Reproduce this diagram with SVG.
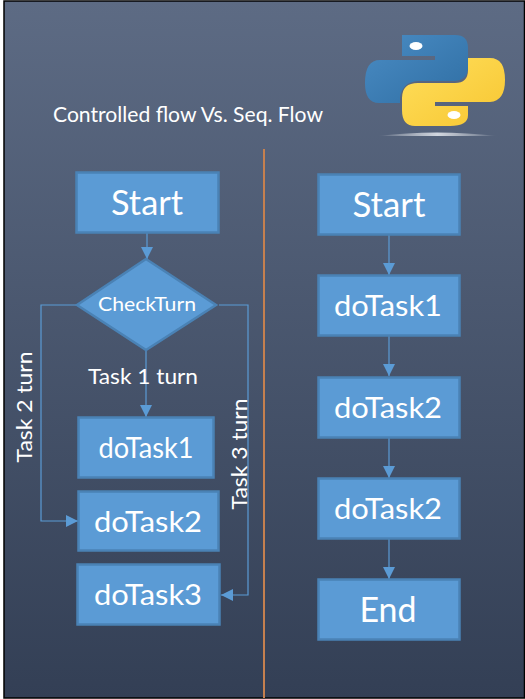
<svg xmlns="http://www.w3.org/2000/svg" width="525" height="699" viewBox="0 0 525 699">
<style>
.box{fill:#5b9bd5;stroke:#4a82b5;stroke-width:2.500}
.conn{fill:none;stroke:#5b9bd5;stroke-width:1.200}
text{font-family:Lato,"Open Sans","Noto Sans",sans-serif;fill:#fff;text-anchor:middle}
.lg{font-size:35px}.md{font-size:28px}.sm{font-size:20px}.lb{font-size:22px}
</style>
<defs>
<linearGradient id="bg" x1="0" y1="0" x2="0" y2="1"><stop offset="0" stop-color="#5d6b84"/><stop offset="1" stop-color="#333f55"/></linearGradient>
<linearGradient id="blue" x1="0" y1="0" x2="1" y2="1"><stop offset="0" stop-color="#4a8cc4"/><stop offset="1" stop-color="#2f6ea3"/></linearGradient>
<linearGradient id="yellow" x1="0" y1="0" x2="1" y2="1"><stop offset="0" stop-color="#ffdf5c"/><stop offset="1" stop-color="#f7c631"/></linearGradient>
<linearGradient id="glow" x1="0" y1="0" x2="1" y2="0"><stop offset="0" stop-color="#fff" stop-opacity="0"/><stop offset=".5" stop-color="#dfe3ea" stop-opacity=".9"/><stop offset="1" stop-color="#fff" stop-opacity="0"/></linearGradient>
<marker id="arr" markerWidth="13" markerHeight="13" refX="12" refY="6" orient="auto" markerUnits="userSpaceOnUse"><path d="M0 0L12 6L0 12z" fill="#5b9bd5"/></marker>
</defs>
<rect width="525" height="699" fill="#fff"/>
<rect x="4" y="1" width="520.500" height="697" fill="url(#bg)" stroke="#000" stroke-width="1.500"/>
<g id="logo">
<path d="M402 35H455Q468 35 468 48V67Q468 80 455 81H418Q402 82 400 98V103H379Q365 103 365 83Q365 60 380 60H435V56H402Z" fill="url(#blue)"/>
<ellipse cx="416" cy="46" rx="6.500" ry="4" fill="#fff"/>
<path d="M468 58H490Q505 58 505 80Q505 101 490 102H435V106H468V115Q468 126 450 126H415Q402 126 402 110V98Q402 83 418 83H455Q468 83 468 70Z" fill="url(#yellow)"/>
<ellipse cx="454" cy="115" rx="6.500" ry="4" fill="#fff"/>
<path d="M378 136Q436 129 497 136Z" fill="url(#glow)"/>
</g>
<text id="title" x="188" y="122" style="font-size:20.500px" textLength="270" lengthAdjust="spacingAndGlyphs">Controlled flow Vs. Seq. Flow</text>
<line id="divider" x1="264" y1="149" x2="264" y2="698" stroke="#c5804f" stroke-width="2"/>
<g id="connectors">
<path class="conn" d="M147 233V259" marker-end="url(#arr)"/>
<path class="conn" d="M146 351V417" marker-end="url(#arr)"/>
<path class="conn" d="M77 305H41V521H78" marker-end="url(#arr)"/>
<path class="conn" d="M219 305H248V595H221" marker-end="url(#arr)"/>
<path class="conn" d="M389 235V275" marker-end="url(#arr)"/>
<path class="conn" d="M389 336V376" marker-end="url(#arr)"/>
<path class="conn" d="M389 438V478" marker-end="url(#arr)"/>
<path class="conn" d="M389 539V579" marker-end="url(#arr)"/>
</g>
<g id="l-start"><rect class="box" x="76.500" y="172.500" width="142" height="60"/><text class="lg" x="147" y="215" textLength="72" lengthAdjust="spacingAndGlyphs">Start</text></g>
<g id="l-check"><path class="box" d="M146 259L216 305L146 350L77 305Z"/><text class="sm" x="147" y="311" textLength="98" lengthAdjust="spacingAndGlyphs">CheckTurn</text></g>
<g id="l-task1"><rect class="box" x="78.500" y="417.500" width="135" height="60"/><text class="md" x="146" y="458" textLength="95" lengthAdjust="spacingAndGlyphs">doTask1</text></g>
<g id="l-task2"><rect class="box" x="78.500" y="491.500" width="140" height="59"/><text class="md" x="148" y="532" textLength="108" lengthAdjust="spacingAndGlyphs">doTask2</text></g>
<g id="l-task3"><rect class="box" x="77.500" y="564.500" width="142" height="60"/><text class="md" x="148" y="605" textLength="108" lengthAdjust="spacingAndGlyphs">doTask3</text></g>
<g id="r-start"><rect class="box" x="318.500" y="174.500" width="141" height="60"/><text class="lg" x="389" y="217" textLength="73" lengthAdjust="spacingAndGlyphs">Start</text></g>
<g id="r-task1"><rect class="box" x="318.500" y="275.500" width="141" height="60"/><text class="md" x="388" y="316" textLength="108" lengthAdjust="spacingAndGlyphs">doTask1</text></g>
<g id="r-task2a"><rect class="box" x="318.500" y="377.500" width="141" height="60"/><text class="md" x="388" y="418" textLength="108" lengthAdjust="spacingAndGlyphs">doTask2</text></g>
<g id="r-task2b"><rect class="box" x="318.500" y="478.500" width="141" height="60"/><text class="md" x="388" y="519" textLength="108" lengthAdjust="spacingAndGlyphs">doTask2</text></g>
<g id="r-end"><rect class="box" x="318.500" y="579.500" width="141" height="60"/><text class="lg" x="388" y="622" textLength="57" lengthAdjust="spacingAndGlyphs">End</text></g>
<text class="lb" x="143" y="384" textLength="110" lengthAdjust="spacingAndGlyphs">Task 1 turn</text>
<text class="lb" transform="translate(32 407) rotate(-90)" textLength="111" lengthAdjust="spacingAndGlyphs">Task 2 turn</text>
<text class="lb" transform="translate(247 454) rotate(-90)" textLength="111" lengthAdjust="spacingAndGlyphs">Task 3 turn</text>
</svg>
